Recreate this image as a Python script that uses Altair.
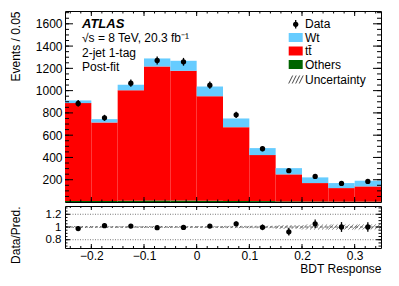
import altair as alt
import pandas as pd
import numpy as np

# ---------------- data ----------------
bin_lo = [-0.25, -0.20, -0.15, -0.10, -0.05, 0.00, 0.05, 0.10, 0.15, 0.20, 0.25, 0.30]
bin_hi = [-0.20, -0.15, -0.10, -0.05, 0.00, 0.05, 0.10, 0.15, 0.20, 0.25, 0.30, 0.35]
others = [10, 9, 12, 14, 13, 11, 10, 8, 6, 5, 4, 4]
ttbar = [878, 705, 992, 1203, 1165, 939, 662, 413, 242, 165, 121, 136]
wt = [24, 30, 49, 72, 90, 87, 78, 63, 56, 51, 45, 51]
data_vals = [885, 756, 1067, 1271, 1259, 1049, 783, 478, 281, 230, 167, 185]
data_err = [30, 27, 33, 36, 35, 32, 28, 22, 17, 15, 13, 14]
ratio = [0.975, 1.02, 1.015, 0.99, 0.993, 1.015, 1.05, 0.995, 0.925, 1.05, 1.0, 1.0]
ratio_err = [0.034, 0.036, 0.032, 0.028, 0.028, 0.031, 0.036, 0.045, 0.06, 0.066, 0.077, 0.073]
unc = [0.015, 0.015, 0.015, 0.015, 0.015, 0.015, 0.018, 0.02, 0.03, 0.04, 0.04, 0.04]

x_major = [-0.2, -0.1, 0.0, 0.1, 0.2, 0.3]
x_minor = [round(v, 2) for v in np.arange(-0.24, 0.351, 0.02)]
y_major = [200, 400, 600, 800, 1000, 1200, 1400, 1600]
y_minor = list(range(50, 1701, 50))
r_major = [0.8, 1.0, 1.2]
r_minor = [round(v, 2) for v in np.arange(0.7, 1.31, 0.05)]

# ---------------- layout ----------------
W, H1, H2 = 316, 191, 42
XD, YD, RD = [-0.25, 0.35], [0, 1715], [0.67, 1.33]
FONT = "Liberation Sans"
xs = alt.Scale(domain=XD, nice=False, zero=False)
ys = alt.Scale(domain=YD, nice=False, zero=False)
rs = alt.Scale(domain=RD, nice=False, zero=False)
one = pd.DataFrame({"k": [0]})

AX_TY = alt.Axis(
    values=y_major, format="d", ticks=False, domain=False, grid=False,
    labelFontSize=12, labelColor="black", labelPadding=3, labelFont=FONT,
    title="Events / 0.05", titleFontSize=12, titleFontWeight="normal", titleColor="black",
    titleFont=FONT, titleX=-55, titleY=0, titleAlign="right", titleAngle=270,
    titleBaseline="top")
AX_RY = alt.Axis(
    values=r_major, format=".1~f", ticks=False, domain=False, grid=False,
    labelFontSize=11.5, labelColor="black", labelPadding=4, labelFont=FONT,
    title="Data/Pred.", titleFontSize=12, titleFontWeight="normal", titleColor="black",
    titleFont=FONT, titleX=-55, titleY=0, titleAlign="right", titleAngle=270,
    titleBaseline="top")
AX_RX = alt.Axis(
    values=x_major, format=".1~f", ticks=False, domain=False, grid=False,
    labelFontSize=12, labelColor="black", labelPadding=2, labelFont=FONT,
    title="BDT Response", titleFontSize=12, titleFontWeight="normal", titleColor="black",
    titleFont=FONT, titleAnchor="end", titlePadding=2)

# stacked components
rows = []
for i in range(len(bin_lo)):
    base = 0
    for name, arr in (("Others", others), ("tt", ttbar), ("Wt", wt)):
        rows.append(dict(lo=bin_lo[i], hi=bin_hi[i], y0=base, y1=base + arr[i], comp=name))
        base += arr[i]
stack = pd.DataFrame(rows)
centers = [(a + b) / 2 for a, b in zip(bin_lo, bin_hi)]
pts = pd.DataFrame(dict(x=centers, d=data_vals, e=data_err, r=ratio, re=ratio_err))
pts["dl"] = pts.d - pts.e
pts["dh"] = pts.d + pts.e
pts["rl"] = pts.r - pts.re
pts["rh"] = pts.r + pts.re

bars = alt.Chart(stack).mark_rect(strokeWidth=0).encode(
    x=alt.X("lo:Q", scale=xs, axis=None),
    x2="hi:Q",
    y=alt.Y("y0:Q", scale=ys, axis=AX_TY),
    y2="y1:Q",
    color=alt.Color("comp:N", scale=alt.Scale(domain=["Others", "tt", "Wt"],
                                              range=["#006400", "#ff0000", "#66ccff"]), legend=None),
)

err = alt.Chart(pts).mark_rule(color="black", strokeWidth=1.3).encode(
    x=alt.X("x:Q", scale=xs, axis=None),
    y=alt.Y("dl:Q", scale=ys, axis=AX_TY), y2="dh:Q")
dots = alt.Chart(pts).mark_circle(color="black", opacity=1, size=28).encode(
    x=alt.X("x:Q", scale=xs, axis=None),
    y=alt.Y("d:Q", scale=ys, axis=AX_TY))


def xticks(vals, scale, axis, h, ln):
    df = pd.DataFrame({"v": vals})
    b = alt.Chart(df).mark_rule(color="black", strokeWidth=1).encode(
        x=alt.X("v:Q", scale=scale, axis=axis), y=alt.value(h), y2=alt.value(h - ln))
    t = alt.Chart(df).mark_rule(color="black", strokeWidth=1).encode(
        x=alt.X("v:Q", scale=scale, axis=axis), y=alt.value(0), y2=alt.value(ln))
    return [b, t]


def yticks(vals, scale, axis, ln):
    df = pd.DataFrame({"v": vals})
    l = alt.Chart(df).mark_rule(color="black", strokeWidth=1).encode(
        y=alt.Y("v:Q", scale=scale, axis=axis), x=alt.value(0), x2=alt.value(ln))
    r = alt.Chart(df).mark_rule(color="black", strokeWidth=1).encode(
        y=alt.Y("v:Q", scale=scale, axis=axis), x=alt.value(W - ln), x2=alt.value(W))
    return [l, r]


def text(t, x, y, size=12, **kw):
    return alt.Chart(pd.DataFrame({"t": [t]})).mark_text(
        align="left", baseline="middle", fontSize=size, font=FONT, color="black", **kw
    ).encode(x=alt.value(x), y=alt.value(y), text="t:N")


ann = [
    text("ATLAS", 17, 13, size=13, fontWeight="bold", fontStyle="italic"),
    text("\u221as = 8 TeV, 20.3 fb\u207b\u00b9", 17, 27),
    text("2-jet 1-tag", 17, 41.5),
    text("Post-fit", 17, 56),
]

# legend
LX0, LX1, LT = 223.7, 237.7, 240
leg = [
    alt.Chart(one).mark_rule(color="black", strokeWidth=1.3).encode(
        x=alt.value(230.7), y=alt.value(9), y2=alt.value(17.6)),
    alt.Chart(one).mark_circle(color="black", opacity=1, size=28).encode(
        x=alt.value(230.7), y=alt.value(13.3)),
    text("Data", LT, 13.3),
]
for lab, col, yc in (("Wt", "#66ccff", 26.5), ("t\u0074\u0304", "#ff0000", 40), ("Others", "#006400", 53.5)):
    leg.append(alt.Chart(one).mark_rect(color=col).encode(
        x=alt.value(LX0), x2=alt.value(LX1), y=alt.value(yc - 4.5), y2=alt.value(yc + 4.5)))
    leg.append(text(lab, LT, yc))
for dx in (0, 3.5, 7, 10.5):
    leg.append(alt.Chart(one).mark_rule(color="#333333", strokeWidth=0.9).encode(
        x=alt.value(LX0 + dx), x2=alt.value(LX0 + dx + 4), y=alt.value(72.5), y2=alt.value(64.5)))
leg.append(text("Uncertainty", LT, 68.5))

top = alt.layer(bars, err, dots,
                *xticks(x_major, xs, None, H1, 5), *xticks(x_minor, xs, None, H1, 2.5),
                *yticks(y_major, ys, AX_TY, 8), *yticks(y_minor, ys, AX_TY, 4), *ann, *leg
                ).properties(width=W, height=H1)

# ---------------- ratio panel ----------------
rl = alt.Chart(pd.DataFrame({"v": [0.8, 1.2]})).mark_rule(
    color="#555555", strokeWidth=0.8, strokeDash=[1, 1.5]).encode(
    y=alt.Y("v:Q", scale=rs, axis=AX_RY), x=alt.value(0), x2=alt.value(W))
r1 = alt.Chart(pd.DataFrame({"v": [1.0]})).mark_rule(
    color="#444444", strokeWidth=0.8, strokeDash=[3, 2]).encode(
    y=alt.Y("v:Q", scale=rs, axis=AX_RY), x=alt.value(0), x2=alt.value(W))

px_x = W / (XD[1] - XD[0])
px_r = H2 / (RD[1] - RD[0])
hrows = []
for lo, hi, u in zip(bin_lo, bin_hi, unc):
    dxu = (2 * u * px_r) / px_x
    for xv in np.arange(lo, hi - 1e-9, 0.0076):
        hrows.append(dict(a=xv, b=xv + dxu, y0=1 - u, y1=1 + u))
hatch = alt.Chart(pd.DataFrame(hrows)).mark_rule(color="#444444", strokeWidth=0.7, clip=True).encode(
    x=alt.X("a:Q", scale=xs, axis=AX_RX), x2="b:Q",
    y=alt.Y("y0:Q", scale=rs, axis=AX_RY), y2="y1:Q")

rerr = alt.Chart(pts).mark_rule(color="black", strokeWidth=1.3).encode(
    x=alt.X("x:Q", scale=xs, axis=AX_RX),
    y=alt.Y("rl:Q", scale=rs, axis=AX_RY), y2="rh:Q")
rdots = alt.Chart(pts).mark_circle(color="black", opacity=1, size=28).encode(
    x=alt.X("x:Q", scale=xs, axis=AX_RX),
    y=alt.Y("r:Q", scale=rs, axis=AX_RY))

bottom = alt.layer(rl, r1, hatch, rerr, rdots,
                   *xticks(x_major, xs, AX_RX, H2, 4), *xticks(x_minor, xs, AX_RX, H2, 2),
                   *yticks(r_major, rs, AX_RY, 5), *yticks(r_minor, rs, AX_RY, 2.5)
                   ).properties(width=W, height=H2)

chart = alt.vconcat(top, bottom, spacing=2).properties(
    padding={"left": 0, "top": 2, "right": 5, "bottom": 5}
).configure(font=FONT).configure_view(stroke="black", strokeWidth=1)

chart.save("out.html", embed_options={"renderer": "svg", "actions": False})
